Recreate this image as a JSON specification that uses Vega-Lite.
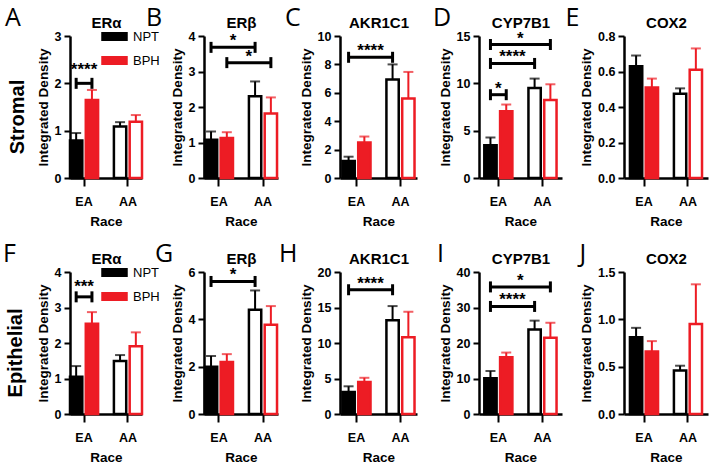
{
  "$schema": "https://vega.github.io/schema/vega-lite/v6.json",
  "padding": {"left": 3, "top": 6, "right": 3, "bottom": 2},
  "datasets": {
    "bars": [
      {"panel": "A", "race": "EA", "grp": "NPT", "mean": 0.79, "top": 0.95},
      {"panel": "A", "race": "EA", "grp": "BPH", "mean": 1.65, "top": 1.86},
      {"panel": "A", "race": "AA", "grp": "NPT", "mean": 1.09, "top": 1.18},
      {"panel": "A", "race": "AA", "grp": "BPH", "mean": 1.19, "top": 1.33},
      {"panel": "B", "race": "EA", "grp": "NPT", "mean": 1.08, "top": 1.31},
      {"panel": "B", "race": "EA", "grp": "BPH", "mean": 1.13, "top": 1.29},
      {"panel": "B", "race": "AA", "grp": "NPT", "mean": 2.3, "top": 2.72},
      {"panel": "B", "race": "AA", "grp": "BPH", "mean": 1.82, "top": 2.27},
      {"panel": "C", "race": "EA", "grp": "NPT", "mean": 1.2, "top": 1.5},
      {"panel": "C", "race": "EA", "grp": "BPH", "mean": 2.5, "top": 2.92},
      {"panel": "C", "race": "AA", "grp": "NPT", "mean": 6.93, "top": 8.0},
      {"panel": "C", "race": "AA", "grp": "BPH", "mean": 5.6, "top": 7.47},
      {"panel": "D", "race": "EA", "grp": "NPT", "mean": 3.45, "top": 4.27},
      {"panel": "D", "race": "EA", "grp": "BPH", "mean": 7.05, "top": 7.76},
      {"panel": "D", "race": "AA", "grp": "NPT", "mean": 9.5, "top": 10.5},
      {"panel": "D", "race": "AA", "grp": "BPH", "mean": 8.25, "top": 9.9},
      {"panel": "E", "race": "EA", "grp": "NPT", "mean": 0.63, "top": 0.69},
      {"panel": "E", "race": "EA", "grp": "BPH", "mean": 0.51, "top": 0.56},
      {"panel": "E", "race": "AA", "grp": "NPT", "mean": 0.474, "top": 0.505},
      {"panel": "E", "race": "AA", "grp": "BPH", "mean": 0.61, "top": 0.73},
      {"panel": "F", "race": "EA", "grp": "NPT", "mean": 1.05, "top": 1.35},
      {"panel": "F", "race": "EA", "grp": "BPH", "mean": 2.54, "top": 2.87},
      {"panel": "F", "race": "AA", "grp": "NPT", "mean": 1.49, "top": 1.66},
      {"panel": "F", "race": "AA", "grp": "BPH", "mean": 1.91, "top": 2.3},
      {"panel": "G", "race": "EA", "grp": "NPT", "mean": 2.0, "top": 2.45},
      {"panel": "G", "race": "EA", "grp": "BPH", "mean": 2.2, "top": 2.53},
      {"panel": "G", "race": "AA", "grp": "NPT", "mean": 4.4, "top": 5.22},
      {"panel": "G", "race": "AA", "grp": "BPH", "mean": 3.77, "top": 4.56},
      {"panel": "H", "race": "EA", "grp": "NPT", "mean": 3.1, "top": 3.9},
      {"panel": "H", "race": "EA", "grp": "BPH", "mean": 4.5, "top": 5.1},
      {"panel": "H", "race": "AA", "grp": "NPT", "mean": 13.2, "top": 15.2},
      {"panel": "H", "race": "AA", "grp": "BPH", "mean": 10.8, "top": 14.4},
      {"panel": "I", "race": "EA", "grp": "NPT", "mean": 10.1, "top": 12.1},
      {"panel": "I", "race": "EA", "grp": "BPH", "mean": 16.0, "top": 17.3},
      {"panel": "I", "race": "AA", "grp": "NPT", "mean": 23.8, "top": 26.3},
      {"panel": "I", "race": "AA", "grp": "BPH", "mean": 21.5, "top": 25.7},
      {"panel": "J", "race": "EA", "grp": "NPT", "mean": 0.81, "top": 0.91},
      {"panel": "J", "race": "EA", "grp": "BPH", "mean": 0.66, "top": 0.77},
      {"panel": "J", "race": "AA", "grp": "NPT", "mean": 0.46, "top": 0.51},
      {"panel": "J", "race": "AA", "grp": "BPH", "mean": 0.95, "top": 1.37}
    ],
    "brackets": [
      {"panel": "A", "id": "a1", "race": "EA", "grp": "NPT", "level": 2.0},
      {"panel": "A", "id": "a1", "race": "EA", "grp": "BPH", "level": 2.0},
      {"panel": "B", "id": "b1", "race": "EA", "grp": "NPT", "level": 3.68},
      {"panel": "B", "id": "b1", "race": "AA", "grp": "NPT", "level": 3.68},
      {"panel": "B", "id": "b2", "race": "EA", "grp": "BPH", "level": 3.25},
      {"panel": "B", "id": "b2", "race": "AA", "grp": "BPH", "level": 3.25},
      {"panel": "C", "id": "c1", "race": "EA", "grp": "NPT", "level": 8.5},
      {"panel": "C", "id": "c1", "race": "AA", "grp": "NPT", "level": 8.5},
      {"panel": "D", "id": "d1", "race": "EA", "grp": "NPT", "level": 8.8},
      {"panel": "D", "id": "d1", "race": "EA", "grp": "BPH", "level": 8.8},
      {"panel": "D", "id": "d2", "race": "EA", "grp": "NPT", "level": 12.1},
      {"panel": "D", "id": "d2", "race": "AA", "grp": "NPT", "level": 12.1},
      {"panel": "D", "id": "d3", "race": "EA", "grp": "NPT", "level": 14.1},
      {"panel": "D", "id": "d3", "race": "AA", "grp": "BPH", "level": 14.1},
      {"panel": "F", "id": "f1", "race": "EA", "grp": "NPT", "level": 3.3},
      {"panel": "F", "id": "f1", "race": "EA", "grp": "BPH", "level": 3.3},
      {"panel": "G", "id": "g1", "race": "EA", "grp": "NPT", "level": 5.6},
      {"panel": "G", "id": "g1", "race": "AA", "grp": "NPT", "level": 5.6},
      {"panel": "H", "id": "h1", "race": "EA", "grp": "NPT", "level": 17.5},
      {"panel": "H", "id": "h1", "race": "AA", "grp": "NPT", "level": 17.5},
      {"panel": "I", "id": "i1", "race": "EA", "grp": "NPT", "level": 30.3},
      {"panel": "I", "id": "i1", "race": "AA", "grp": "NPT", "level": 30.3},
      {"panel": "I", "id": "i2", "race": "EA", "grp": "NPT", "level": 35.8},
      {"panel": "I", "id": "i2", "race": "AA", "grp": "BPH", "level": 35.8}
    ],
    "stars": [
      {"panel": "A", "kind": "in", "race": "EA", "level": 2.15, "label": "****"},
      {"panel": "B", "kind": "side", "race": "EA", "grp": "NPT", "level": 3.68, "label": "*"},
      {"panel": "B", "kind": "side", "race": "EA", "grp": "BPH", "level": 3.25, "label": "*"},
      {"panel": "C", "kind": "side", "race": "EA", "grp": "NPT", "level": 8.5, "label": "****"},
      {"panel": "D", "kind": "in", "race": "EA", "level": 8.8, "label": "*"},
      {"panel": "D", "kind": "side", "race": "EA", "grp": "NPT", "level": 12.1, "label": "****"},
      {"panel": "D", "kind": "mid", "race": "EA", "level": 14.1, "label": "*"},
      {"panel": "F", "kind": "in", "race": "EA", "level": 3.41, "label": "***"},
      {"panel": "G", "kind": "side", "race": "EA", "grp": "NPT", "level": 5.6, "label": "*"},
      {"panel": "H", "kind": "side", "race": "EA", "grp": "NPT", "level": 17.5, "label": "****"},
      {"panel": "I", "kind": "side", "race": "EA", "grp": "NPT", "level": 30.3, "label": "****"},
      {"panel": "I", "kind": "mid", "race": "EA", "level": 35.8, "label": "*"}
    ]
  },
  "config": {
    "font": "Liberation Sans",
    "view": {"stroke": null},
    "title": {"anchor": "start", "frame": "bounds", "font": "Open Sans", "fontSize": 25, "fontWeight": "normal", "color": "black", "offset": -16},
    "axis": {"grid": false, "domainColor": "black", "domainWidth": 2.5, "tickColor": "black", "tickWidth": 2, "labelColor": "black", "labelFont": "Liberation Sans", "labelFontWeight": "bold", "labelFontSize": 12.5, "titleFont": "Liberation Sans", "titleFontWeight": "bold", "titleColor": "black"},
    "axisLeft": {"tickSize": 6, "labelPadding": 3, "titleFontSize": 13.5, "titlePadding": 4},
    "axisBottom": {"tickSize": 8, "labelPadding": 9, "labelAngle": 0, "titleFontSize": 13.5, "titlePadding": 7},
    "axisTop": {"labels": false, "ticks": false, "domain": false, "titleFontSize": 15, "titlePadding": 6},
    "legend": {"orient": "none", "legendX": 38, "legendY": -6, "title": null, "symbolType": "M-2.4,-0.65H2.4V0.65H-2.4Z", "symbolSize": 100, "symbolStrokeWidth": 0, "labelFont": "Liberation Sans", "labelFontSize": 13, "labelFontWeight": "normal", "labelColor": "black", "rowPadding": 7, "labelOffset": 12},
    "bar": {"strokeWidth": 2.5},
    "rule": {"strokeWidth": 2},
    "tick": {"thickness": 2, "size": 10},
    "line": {"color": "black", "strokeWidth": 3},
    "point": {"shape": "M0,-1V1", "size": 121, "filled": false, "color": "black", "strokeWidth": 3, "opacity": 1},
    "text": {"fontSize": 17, "fontWeight": "bold", "baseline": "alphabetic", "dy": -1, "color": "black"}
  },
  "spacing": 14,
  "resolve": {"scale": {"fill": "independent", "stroke": "independent", "color": "independent"}, "legend": {"fill": "independent", "stroke": "independent", "color": "independent"}},
  "vconcat": [
    {
      "title": {"text": "Stromal", "orient": "left", "anchor": "middle", "font": "Liberation Sans", "fontSize": 20, "fontWeight": "bold", "offset": -23},
      "bounds": "flush",
      "spacing": 62,
      "resolve": {"scale": {"fill": "independent", "stroke": "independent", "color": "independent"}, "legend": {"fill": "independent", "stroke": "independent", "color": "independent"}},
      "hconcat": [
        {
          "width": 72, "height": 142,
          "title": {"text": "A", "dx": -31},
          "resolve": {"axis": {"x": "independent", "y": "independent"}},
          "layer": [
            {"data": {"name": "bars"}, "transform": [{"filter": {"field": "panel", "equal": "A"}}], "mark": "bar",
             "encoding": {
               "x": {"field": "race", "type": "nominal", "scale": {"domain": ["EA", "AA"], "paddingInner": 0.36, "paddingOuter": 0}, "axis": {"title": "Race"}},
               "xOffset": {"field": "grp", "type": "nominal", "scale": {"domain": ["NPT", "BPH"], "paddingInner": 0.22}},
               "y": {"field": "mean", "type": "quantitative", "scale": {"domain": [0, 3], "nice": false}, "axis": {"title": "Integrated Density", "values": [0, 1, 2, 3]}},
               "fill": {"condition": {"test": "datum.race === 'AA'", "value": "white"}, "field": "grp", "type": "nominal", "scale": {"domain": ["NPT", "BPH"], "range": ["black", "#ed1c24"]}, "legend": {}},
               "stroke": {"field": "grp", "type": "nominal", "scale": {"domain": ["NPT", "BPH"], "range": ["black", "#ed1c24"]}, "legend": null}
             }},
            {"data": {"name": "bars"}, "transform": [{"filter": {"field": "panel", "equal": "A"}}], "mark": "rule",
             "encoding": {
               "x": {"field": "race", "type": "nominal", "scale": {"domain": ["EA", "AA"]}, "axis": {"orient": "top", "title": "ERα"}},
               "xOffset": {"field": "grp", "type": "nominal", "scale": {"domain": ["NPT", "BPH"]}},
               "y": {"field": "mean", "type": "quantitative", "axis": null}, "y2": {"field": "top"},
               "color": {"field": "grp", "type": "nominal", "scale": {"domain": ["NPT", "BPH"], "range": ["black", "#ed1c24"]}, "legend": null}
             }},
            {"data": {"name": "bars"}, "transform": [{"filter": {"field": "panel", "equal": "A"}}], "mark": "tick",
             "encoding": {
               "x": {"field": "race", "type": "nominal", "scale": {"domain": ["EA", "AA"]}, "axis": null},
               "xOffset": {"field": "grp", "type": "nominal", "scale": {"domain": ["NPT", "BPH"]}},
               "y": {"field": "top", "type": "quantitative", "axis": null},
               "color": {"field": "grp", "type": "nominal", "scale": {"domain": ["NPT", "BPH"], "range": ["black", "#ed1c24"]}, "legend": null}
             }},
            {"data": {"name": "brackets"}, "transform": [{"filter": {"field": "panel", "equal": "A"}}], "mark": "line",
             "encoding": {
               "x": {"field": "race", "type": "nominal", "scale": {"domain": ["EA", "AA"]}, "axis": null},
               "xOffset": {"field": "grp", "type": "nominal", "scale": {"domain": ["NPT", "BPH"]}},
               "y": {"field": "level", "type": "quantitative", "axis": null},
               "detail": {"field": "id"}
             }},
            {"data": {"name": "brackets"}, "transform": [{"filter": {"field": "panel", "equal": "A"}}], "mark": "point",
             "encoding": {
               "x": {"field": "race", "type": "nominal", "scale": {"domain": ["EA", "AA"]}, "axis": null},
               "xOffset": {"field": "grp", "type": "nominal", "scale": {"domain": ["NPT", "BPH"]}},
               "y": {"field": "level", "type": "quantitative", "axis": null}
             }},
            {"data": {"name": "stars"}, "transform": [{"filter": {"field": "panel", "equal": "A"}}, {"filter": {"field": "kind", "equal": "in"}}], "mark": "text",
             "encoding": {
               "x": {"field": "race", "type": "nominal", "scale": {"domain": ["EA", "AA"]}, "axis": null},
               "y": {"field": "level", "type": "quantitative", "axis": null},
               "text": {"field": "label"}
             }}
          ]
        },
        {
          "width": 74, "height": 142,
          "title": {"text": "B", "dx": -24},
          "resolve": {"axis": {"x": "independent", "y": "independent"}},
          "layer": [
            {"data": {"name": "bars"}, "transform": [{"filter": {"field": "panel", "equal": "B"}}], "mark": "bar",
             "encoding": {
               "x": {"field": "race", "type": "nominal", "scale": {"domain": ["EA", "AA"], "paddingInner": 0.36, "paddingOuter": 0.02}, "axis": {"title": "Race"}},
               "xOffset": {"field": "grp", "type": "nominal", "scale": {"domain": ["NPT", "BPH"], "paddingInner": 0.22}},
               "y": {"field": "mean", "type": "quantitative", "scale": {"domain": [0, 4], "nice": false}, "axis": {"title": "Integrated Density", "values": [0, 1, 2, 3, 4]}},
               "fill": {"condition": {"test": "datum.race === 'AA'", "value": "white"}, "field": "grp", "type": "nominal", "scale": {"domain": ["NPT", "BPH"], "range": ["black", "#ed1c24"]}, "legend": null},
               "stroke": {"field": "grp", "type": "nominal", "scale": {"domain": ["NPT", "BPH"], "range": ["black", "#ed1c24"]}, "legend": null}
             }},
            {"data": {"name": "bars"}, "transform": [{"filter": {"field": "panel", "equal": "B"}}], "mark": "rule",
             "encoding": {
               "x": {"field": "race", "type": "nominal", "scale": {"domain": ["EA", "AA"]}, "axis": {"orient": "top", "title": "ERβ"}},
               "xOffset": {"field": "grp", "type": "nominal", "scale": {"domain": ["NPT", "BPH"]}},
               "y": {"field": "mean", "type": "quantitative", "axis": null}, "y2": {"field": "top"},
               "color": {"field": "grp", "type": "nominal", "scale": {"domain": ["NPT", "BPH"], "range": ["black", "#ed1c24"]}, "legend": null}
             }},
            {"data": {"name": "bars"}, "transform": [{"filter": {"field": "panel", "equal": "B"}}], "mark": "tick",
             "encoding": {
               "x": {"field": "race", "type": "nominal", "scale": {"domain": ["EA", "AA"]}, "axis": null},
               "xOffset": {"field": "grp", "type": "nominal", "scale": {"domain": ["NPT", "BPH"]}},
               "y": {"field": "top", "type": "quantitative", "axis": null},
               "color": {"field": "grp", "type": "nominal", "scale": {"domain": ["NPT", "BPH"], "range": ["black", "#ed1c24"]}, "legend": null}
             }},
            {"data": {"name": "brackets"}, "transform": [{"filter": {"field": "panel", "equal": "B"}}], "mark": "line",
             "encoding": {
               "x": {"field": "race", "type": "nominal", "scale": {"domain": ["EA", "AA"]}, "axis": null},
               "xOffset": {"field": "grp", "type": "nominal", "scale": {"domain": ["NPT", "BPH"]}},
               "y": {"field": "level", "type": "quantitative", "axis": null},
               "detail": {"field": "id"}
             }},
            {"data": {"name": "brackets"}, "transform": [{"filter": {"field": "panel", "equal": "B"}}], "mark": "point",
             "encoding": {
               "x": {"field": "race", "type": "nominal", "scale": {"domain": ["EA", "AA"]}, "axis": null},
               "xOffset": {"field": "grp", "type": "nominal", "scale": {"domain": ["NPT", "BPH"]}},
               "y": {"field": "level", "type": "quantitative", "axis": null}
             }},
            {"data": {"name": "stars"}, "transform": [{"filter": {"field": "panel", "equal": "B"}}, {"filter": {"field": "kind", "equal": "side"}}], "mark": {"type": "text", "dx": 22},
             "encoding": {
               "x": {"field": "race", "type": "nominal", "scale": {"domain": ["EA", "AA"]}, "axis": null},
               "xOffset": {"field": "grp", "type": "nominal", "scale": {"domain": ["NPT", "BPH"]}},
               "y": {"field": "level", "type": "quantitative", "axis": null},
               "text": {"field": "label"}
             }}
          ]
        },
        {
          "width": 77, "height": 142,
          "title": {"text": "C", "dx": -14},
          "resolve": {"axis": {"x": "independent", "y": "independent"}},
          "layer": [
            {"data": {"name": "bars"}, "transform": [{"filter": {"field": "panel", "equal": "C"}}], "mark": "bar",
             "encoding": {
               "x": {"field": "race", "type": "nominal", "scale": {"domain": ["EA", "AA"], "paddingInner": 0.36, "paddingOuter": 0.055}, "axis": {"title": "Race"}},
               "xOffset": {"field": "grp", "type": "nominal", "scale": {"domain": ["NPT", "BPH"], "paddingInner": 0.22}},
               "y": {"field": "mean", "type": "quantitative", "scale": {"domain": [0, 10], "nice": false}, "axis": {"title": "Integrated Density", "values": [0, 2, 4, 6, 8, 10]}},
               "fill": {"condition": {"test": "datum.race === 'AA'", "value": "white"}, "field": "grp", "type": "nominal", "scale": {"domain": ["NPT", "BPH"], "range": ["black", "#ed1c24"]}, "legend": null},
               "stroke": {"field": "grp", "type": "nominal", "scale": {"domain": ["NPT", "BPH"], "range": ["black", "#ed1c24"]}, "legend": null}
             }},
            {"data": {"name": "bars"}, "transform": [{"filter": {"field": "panel", "equal": "C"}}], "mark": "rule",
             "encoding": {
               "x": {"field": "race", "type": "nominal", "scale": {"domain": ["EA", "AA"]}, "axis": {"orient": "top", "title": "AKR1C1"}},
               "xOffset": {"field": "grp", "type": "nominal", "scale": {"domain": ["NPT", "BPH"]}},
               "y": {"field": "mean", "type": "quantitative", "axis": null}, "y2": {"field": "top"},
               "color": {"field": "grp", "type": "nominal", "scale": {"domain": ["NPT", "BPH"], "range": ["black", "#ed1c24"]}, "legend": null}
             }},
            {"data": {"name": "bars"}, "transform": [{"filter": {"field": "panel", "equal": "C"}}], "mark": "tick",
             "encoding": {
               "x": {"field": "race", "type": "nominal", "scale": {"domain": ["EA", "AA"]}, "axis": null},
               "xOffset": {"field": "grp", "type": "nominal", "scale": {"domain": ["NPT", "BPH"]}},
               "y": {"field": "top", "type": "quantitative", "axis": null},
               "color": {"field": "grp", "type": "nominal", "scale": {"domain": ["NPT", "BPH"], "range": ["black", "#ed1c24"]}, "legend": null}
             }},
            {"data": {"name": "brackets"}, "transform": [{"filter": {"field": "panel", "equal": "C"}}], "mark": "line",
             "encoding": {
               "x": {"field": "race", "type": "nominal", "scale": {"domain": ["EA", "AA"]}, "axis": null},
               "xOffset": {"field": "grp", "type": "nominal", "scale": {"domain": ["NPT", "BPH"]}},
               "y": {"field": "level", "type": "quantitative", "axis": null},
               "detail": {"field": "id"}
             }},
            {"data": {"name": "brackets"}, "transform": [{"filter": {"field": "panel", "equal": "C"}}], "mark": "point",
             "encoding": {
               "x": {"field": "race", "type": "nominal", "scale": {"domain": ["EA", "AA"]}, "axis": null},
               "xOffset": {"field": "grp", "type": "nominal", "scale": {"domain": ["NPT", "BPH"]}},
               "y": {"field": "level", "type": "quantitative", "axis": null}
             }},
            {"data": {"name": "stars"}, "transform": [{"filter": {"field": "panel", "equal": "C"}}, {"filter": {"field": "kind", "equal": "side"}}], "mark": {"type": "text", "dx": 22},
             "encoding": {
               "x": {"field": "race", "type": "nominal", "scale": {"domain": ["EA", "AA"]}, "axis": null},
               "xOffset": {"field": "grp", "type": "nominal", "scale": {"domain": ["NPT", "BPH"]}},
               "y": {"field": "level", "type": "quantitative", "axis": null},
               "text": {"field": "label"}
             }}
          ]
        },
        {
          "width": 83, "height": 142,
          "title": {"text": "D", "dx": -5},
          "resolve": {"axis": {"x": "independent", "y": "independent"}},
          "layer": [
            {"data": {"name": "bars"}, "transform": [{"filter": {"field": "panel", "equal": "D"}}], "mark": "bar",
             "encoding": {
               "x": {"field": "race", "type": "nominal", "scale": {"domain": ["EA", "AA"], "paddingInner": 0.36, "paddingOuter": 0.12}, "axis": {"title": "Race"}},
               "xOffset": {"field": "grp", "type": "nominal", "scale": {"domain": ["NPT", "BPH"], "paddingInner": 0.22}},
               "y": {"field": "mean", "type": "quantitative", "scale": {"domain": [0, 15], "nice": false}, "axis": {"title": "Integrated Density", "values": [0, 5, 10, 15]}},
               "fill": {"condition": {"test": "datum.race === 'AA'", "value": "white"}, "field": "grp", "type": "nominal", "scale": {"domain": ["NPT", "BPH"], "range": ["black", "#ed1c24"]}, "legend": null},
               "stroke": {"field": "grp", "type": "nominal", "scale": {"domain": ["NPT", "BPH"], "range": ["black", "#ed1c24"]}, "legend": null}
             }},
            {"data": {"name": "bars"}, "transform": [{"filter": {"field": "panel", "equal": "D"}}], "mark": "rule",
             "encoding": {
               "x": {"field": "race", "type": "nominal", "scale": {"domain": ["EA", "AA"]}, "axis": {"orient": "top", "title": "CYP7B1"}},
               "xOffset": {"field": "grp", "type": "nominal", "scale": {"domain": ["NPT", "BPH"]}},
               "y": {"field": "mean", "type": "quantitative", "axis": null}, "y2": {"field": "top"},
               "color": {"field": "grp", "type": "nominal", "scale": {"domain": ["NPT", "BPH"], "range": ["black", "#ed1c24"]}, "legend": null}
             }},
            {"data": {"name": "bars"}, "transform": [{"filter": {"field": "panel", "equal": "D"}}], "mark": "tick",
             "encoding": {
               "x": {"field": "race", "type": "nominal", "scale": {"domain": ["EA", "AA"]}, "axis": null},
               "xOffset": {"field": "grp", "type": "nominal", "scale": {"domain": ["NPT", "BPH"]}},
               "y": {"field": "top", "type": "quantitative", "axis": null},
               "color": {"field": "grp", "type": "nominal", "scale": {"domain": ["NPT", "BPH"], "range": ["black", "#ed1c24"]}, "legend": null}
             }},
            {"data": {"name": "brackets"}, "transform": [{"filter": {"field": "panel", "equal": "D"}}], "mark": "line",
             "encoding": {
               "x": {"field": "race", "type": "nominal", "scale": {"domain": ["EA", "AA"]}, "axis": null},
               "xOffset": {"field": "grp", "type": "nominal", "scale": {"domain": ["NPT", "BPH"]}},
               "y": {"field": "level", "type": "quantitative", "axis": null},
               "detail": {"field": "id"}
             }},
            {"data": {"name": "brackets"}, "transform": [{"filter": {"field": "panel", "equal": "D"}}], "mark": "point",
             "encoding": {
               "x": {"field": "race", "type": "nominal", "scale": {"domain": ["EA", "AA"]}, "axis": null},
               "xOffset": {"field": "grp", "type": "nominal", "scale": {"domain": ["NPT", "BPH"]}},
               "y": {"field": "level", "type": "quantitative", "axis": null}
             }},
            {"data": {"name": "stars"}, "transform": [{"filter": {"field": "panel", "equal": "D"}}, {"filter": {"field": "kind", "equal": "in"}}], "mark": "text",
             "encoding": {
               "x": {"field": "race", "type": "nominal", "scale": {"domain": ["EA", "AA"]}, "axis": null},
               "y": {"field": "level", "type": "quantitative", "axis": null},
               "text": {"field": "label"}
             }},
            {"data": {"name": "stars"}, "transform": [{"filter": {"field": "panel", "equal": "D"}}, {"filter": {"field": "kind", "equal": "mid"}}], "mark": {"type": "text", "dx": 22},
             "encoding": {
               "x": {"field": "race", "type": "nominal", "scale": {"domain": ["EA", "AA"]}, "axis": null},
               "y": {"field": "level", "type": "quantitative", "axis": null},
               "text": {"field": "label"}
             }},
            {"data": {"name": "stars"}, "transform": [{"filter": {"field": "panel", "equal": "D"}}, {"filter": {"field": "kind", "equal": "side"}}], "mark": {"type": "text", "dx": 22},
             "encoding": {
               "x": {"field": "race", "type": "nominal", "scale": {"domain": ["EA", "AA"]}, "axis": null},
               "xOffset": {"field": "grp", "type": "nominal", "scale": {"domain": ["NPT", "BPH"]}},
               "y": {"field": "level", "type": "quantitative", "axis": null},
               "text": {"field": "label"}
             }}
          ]
        },
        {
          "width": 84, "height": 142,
          "title": {"text": "E", "dx": -14},
          "resolve": {"axis": {"x": "independent", "y": "independent"}},
          "layer": [
            {"data": {"name": "bars"}, "transform": [{"filter": {"field": "panel", "equal": "E"}}], "mark": "bar",
             "encoding": {
               "x": {"field": "race", "type": "nominal", "scale": {"domain": ["EA", "AA"], "paddingInner": 0.36, "paddingOuter": 0.135}, "axis": {"title": "Race"}},
               "xOffset": {"field": "grp", "type": "nominal", "scale": {"domain": ["NPT", "BPH"], "paddingInner": 0.22}},
               "y": {"field": "mean", "type": "quantitative", "scale": {"domain": [0, 0.8], "nice": false}, "axis": {"title": "Integrated Density", "values": [0, 0.2, 0.4, 0.6, 0.8], "format": ".1f"}},
               "fill": {"condition": {"test": "datum.race === 'AA'", "value": "white"}, "field": "grp", "type": "nominal", "scale": {"domain": ["NPT", "BPH"], "range": ["black", "#ed1c24"]}, "legend": null},
               "stroke": {"field": "grp", "type": "nominal", "scale": {"domain": ["NPT", "BPH"], "range": ["black", "#ed1c24"]}, "legend": null}
             }},
            {"data": {"name": "bars"}, "transform": [{"filter": {"field": "panel", "equal": "E"}}], "mark": "rule",
             "encoding": {
               "x": {"field": "race", "type": "nominal", "scale": {"domain": ["EA", "AA"]}, "axis": {"orient": "top", "title": "COX2"}},
               "xOffset": {"field": "grp", "type": "nominal", "scale": {"domain": ["NPT", "BPH"]}},
               "y": {"field": "mean", "type": "quantitative", "axis": null}, "y2": {"field": "top"},
               "color": {"field": "grp", "type": "nominal", "scale": {"domain": ["NPT", "BPH"], "range": ["black", "#ed1c24"]}, "legend": null}
             }},
            {"data": {"name": "bars"}, "transform": [{"filter": {"field": "panel", "equal": "E"}}], "mark": "tick",
             "encoding": {
               "x": {"field": "race", "type": "nominal", "scale": {"domain": ["EA", "AA"]}, "axis": null},
               "xOffset": {"field": "grp", "type": "nominal", "scale": {"domain": ["NPT", "BPH"]}},
               "y": {"field": "top", "type": "quantitative", "axis": null},
               "color": {"field": "grp", "type": "nominal", "scale": {"domain": ["NPT", "BPH"], "range": ["black", "#ed1c24"]}, "legend": null}
             }}
          ]
        }
      ]
    },
    {
      "title": {"text": "Epithelial", "orient": "left", "anchor": "middle", "font": "Liberation Sans", "fontSize": 20, "fontWeight": "bold", "offset": -23},
      "bounds": "flush",
      "spacing": 62,
      "resolve": {"scale": {"fill": "independent", "stroke": "independent", "color": "independent"}, "legend": {"fill": "independent", "stroke": "independent", "color": "independent"}},
      "hconcat": [
        {
          "width": 72, "height": 142,
          "title": {"text": "F", "dx": -33},
          "resolve": {"axis": {"x": "independent", "y": "independent"}},
          "layer": [
            {"data": {"name": "bars"}, "transform": [{"filter": {"field": "panel", "equal": "F"}}], "mark": "bar",
             "encoding": {
               "x": {"field": "race", "type": "nominal", "scale": {"domain": ["EA", "AA"], "paddingInner": 0.36, "paddingOuter": 0}, "axis": {"title": "Race"}},
               "xOffset": {"field": "grp", "type": "nominal", "scale": {"domain": ["NPT", "BPH"], "paddingInner": 0.22}},
               "y": {"field": "mean", "type": "quantitative", "scale": {"domain": [0, 4], "nice": false}, "axis": {"title": "Integrated Density", "values": [0, 1, 2, 3, 4]}},
               "fill": {"condition": {"test": "datum.race === 'AA'", "value": "white"}, "field": "grp", "type": "nominal", "scale": {"domain": ["NPT", "BPH"], "range": ["black", "#ed1c24"]}, "legend": {}},
               "stroke": {"field": "grp", "type": "nominal", "scale": {"domain": ["NPT", "BPH"], "range": ["black", "#ed1c24"]}, "legend": null}
             }},
            {"data": {"name": "bars"}, "transform": [{"filter": {"field": "panel", "equal": "F"}}], "mark": "rule",
             "encoding": {
               "x": {"field": "race", "type": "nominal", "scale": {"domain": ["EA", "AA"]}, "axis": {"orient": "top", "title": "ERα"}},
               "xOffset": {"field": "grp", "type": "nominal", "scale": {"domain": ["NPT", "BPH"]}},
               "y": {"field": "mean", "type": "quantitative", "axis": null}, "y2": {"field": "top"},
               "color": {"field": "grp", "type": "nominal", "scale": {"domain": ["NPT", "BPH"], "range": ["black", "#ed1c24"]}, "legend": null}
             }},
            {"data": {"name": "bars"}, "transform": [{"filter": {"field": "panel", "equal": "F"}}], "mark": "tick",
             "encoding": {
               "x": {"field": "race", "type": "nominal", "scale": {"domain": ["EA", "AA"]}, "axis": null},
               "xOffset": {"field": "grp", "type": "nominal", "scale": {"domain": ["NPT", "BPH"]}},
               "y": {"field": "top", "type": "quantitative", "axis": null},
               "color": {"field": "grp", "type": "nominal", "scale": {"domain": ["NPT", "BPH"], "range": ["black", "#ed1c24"]}, "legend": null}
             }},
            {"data": {"name": "brackets"}, "transform": [{"filter": {"field": "panel", "equal": "F"}}], "mark": "line",
             "encoding": {
               "x": {"field": "race", "type": "nominal", "scale": {"domain": ["EA", "AA"]}, "axis": null},
               "xOffset": {"field": "grp", "type": "nominal", "scale": {"domain": ["NPT", "BPH"]}},
               "y": {"field": "level", "type": "quantitative", "axis": null},
               "detail": {"field": "id"}
             }},
            {"data": {"name": "brackets"}, "transform": [{"filter": {"field": "panel", "equal": "F"}}], "mark": "point",
             "encoding": {
               "x": {"field": "race", "type": "nominal", "scale": {"domain": ["EA", "AA"]}, "axis": null},
               "xOffset": {"field": "grp", "type": "nominal", "scale": {"domain": ["NPT", "BPH"]}},
               "y": {"field": "level", "type": "quantitative", "axis": null}
             }},
            {"data": {"name": "stars"}, "transform": [{"filter": {"field": "panel", "equal": "F"}}, {"filter": {"field": "kind", "equal": "in"}}], "mark": "text",
             "encoding": {
               "x": {"field": "race", "type": "nominal", "scale": {"domain": ["EA", "AA"]}, "axis": null},
               "y": {"field": "level", "type": "quantitative", "axis": null},
               "text": {"field": "label"}
             }}
          ]
        },
        {
          "width": 74, "height": 142,
          "title": {"text": "G", "dx": -15},
          "resolve": {"axis": {"x": "independent", "y": "independent"}},
          "layer": [
            {"data": {"name": "bars"}, "transform": [{"filter": {"field": "panel", "equal": "G"}}], "mark": "bar",
             "encoding": {
               "x": {"field": "race", "type": "nominal", "scale": {"domain": ["EA", "AA"], "paddingInner": 0.36, "paddingOuter": 0.02}, "axis": {"title": "Race"}},
               "xOffset": {"field": "grp", "type": "nominal", "scale": {"domain": ["NPT", "BPH"], "paddingInner": 0.22}},
               "y": {"field": "mean", "type": "quantitative", "scale": {"domain": [0, 6], "nice": false}, "axis": {"title": "Integrated Density", "values": [0, 2, 4, 6]}},
               "fill": {"condition": {"test": "datum.race === 'AA'", "value": "white"}, "field": "grp", "type": "nominal", "scale": {"domain": ["NPT", "BPH"], "range": ["black", "#ed1c24"]}, "legend": null},
               "stroke": {"field": "grp", "type": "nominal", "scale": {"domain": ["NPT", "BPH"], "range": ["black", "#ed1c24"]}, "legend": null}
             }},
            {"data": {"name": "bars"}, "transform": [{"filter": {"field": "panel", "equal": "G"}}], "mark": "rule",
             "encoding": {
               "x": {"field": "race", "type": "nominal", "scale": {"domain": ["EA", "AA"]}, "axis": {"orient": "top", "title": "ERβ"}},
               "xOffset": {"field": "grp", "type": "nominal", "scale": {"domain": ["NPT", "BPH"]}},
               "y": {"field": "mean", "type": "quantitative", "axis": null}, "y2": {"field": "top"},
               "color": {"field": "grp", "type": "nominal", "scale": {"domain": ["NPT", "BPH"], "range": ["black", "#ed1c24"]}, "legend": null}
             }},
            {"data": {"name": "bars"}, "transform": [{"filter": {"field": "panel", "equal": "G"}}], "mark": "tick",
             "encoding": {
               "x": {"field": "race", "type": "nominal", "scale": {"domain": ["EA", "AA"]}, "axis": null},
               "xOffset": {"field": "grp", "type": "nominal", "scale": {"domain": ["NPT", "BPH"]}},
               "y": {"field": "top", "type": "quantitative", "axis": null},
               "color": {"field": "grp", "type": "nominal", "scale": {"domain": ["NPT", "BPH"], "range": ["black", "#ed1c24"]}, "legend": null}
             }},
            {"data": {"name": "brackets"}, "transform": [{"filter": {"field": "panel", "equal": "G"}}], "mark": "line",
             "encoding": {
               "x": {"field": "race", "type": "nominal", "scale": {"domain": ["EA", "AA"]}, "axis": null},
               "xOffset": {"field": "grp", "type": "nominal", "scale": {"domain": ["NPT", "BPH"]}},
               "y": {"field": "level", "type": "quantitative", "axis": null},
               "detail": {"field": "id"}
             }},
            {"data": {"name": "brackets"}, "transform": [{"filter": {"field": "panel", "equal": "G"}}], "mark": "point",
             "encoding": {
               "x": {"field": "race", "type": "nominal", "scale": {"domain": ["EA", "AA"]}, "axis": null},
               "xOffset": {"field": "grp", "type": "nominal", "scale": {"domain": ["NPT", "BPH"]}},
               "y": {"field": "level", "type": "quantitative", "axis": null}
             }},
            {"data": {"name": "stars"}, "transform": [{"filter": {"field": "panel", "equal": "G"}}, {"filter": {"field": "kind", "equal": "side"}}], "mark": {"type": "text", "dx": 22},
             "encoding": {
               "x": {"field": "race", "type": "nominal", "scale": {"domain": ["EA", "AA"]}, "axis": null},
               "xOffset": {"field": "grp", "type": "nominal", "scale": {"domain": ["NPT", "BPH"]}},
               "y": {"field": "level", "type": "quantitative", "axis": null},
               "text": {"field": "label"}
             }}
          ]
        },
        {
          "width": 77, "height": 142,
          "title": {"text": "H", "dx": -20},
          "resolve": {"axis": {"x": "independent", "y": "independent"}},
          "layer": [
            {"data": {"name": "bars"}, "transform": [{"filter": {"field": "panel", "equal": "H"}}], "mark": "bar",
             "encoding": {
               "x": {"field": "race", "type": "nominal", "scale": {"domain": ["EA", "AA"], "paddingInner": 0.36, "paddingOuter": 0.055}, "axis": {"title": "Race"}},
               "xOffset": {"field": "grp", "type": "nominal", "scale": {"domain": ["NPT", "BPH"], "paddingInner": 0.22}},
               "y": {"field": "mean", "type": "quantitative", "scale": {"domain": [0, 20], "nice": false}, "axis": {"title": "Integrated Density", "values": [0, 5, 10, 15, 20]}},
               "fill": {"condition": {"test": "datum.race === 'AA'", "value": "white"}, "field": "grp", "type": "nominal", "scale": {"domain": ["NPT", "BPH"], "range": ["black", "#ed1c24"]}, "legend": null},
               "stroke": {"field": "grp", "type": "nominal", "scale": {"domain": ["NPT", "BPH"], "range": ["black", "#ed1c24"]}, "legend": null}
             }},
            {"data": {"name": "bars"}, "transform": [{"filter": {"field": "panel", "equal": "H"}}], "mark": "rule",
             "encoding": {
               "x": {"field": "race", "type": "nominal", "scale": {"domain": ["EA", "AA"]}, "axis": {"orient": "top", "title": "AKR1C1"}},
               "xOffset": {"field": "grp", "type": "nominal", "scale": {"domain": ["NPT", "BPH"]}},
               "y": {"field": "mean", "type": "quantitative", "axis": null}, "y2": {"field": "top"},
               "color": {"field": "grp", "type": "nominal", "scale": {"domain": ["NPT", "BPH"], "range": ["black", "#ed1c24"]}, "legend": null}
             }},
            {"data": {"name": "bars"}, "transform": [{"filter": {"field": "panel", "equal": "H"}}], "mark": "tick",
             "encoding": {
               "x": {"field": "race", "type": "nominal", "scale": {"domain": ["EA", "AA"]}, "axis": null},
               "xOffset": {"field": "grp", "type": "nominal", "scale": {"domain": ["NPT", "BPH"]}},
               "y": {"field": "top", "type": "quantitative", "axis": null},
               "color": {"field": "grp", "type": "nominal", "scale": {"domain": ["NPT", "BPH"], "range": ["black", "#ed1c24"]}, "legend": null}
             }},
            {"data": {"name": "brackets"}, "transform": [{"filter": {"field": "panel", "equal": "H"}}], "mark": "line",
             "encoding": {
               "x": {"field": "race", "type": "nominal", "scale": {"domain": ["EA", "AA"]}, "axis": null},
               "xOffset": {"field": "grp", "type": "nominal", "scale": {"domain": ["NPT", "BPH"]}},
               "y": {"field": "level", "type": "quantitative", "axis": null},
               "detail": {"field": "id"}
             }},
            {"data": {"name": "brackets"}, "transform": [{"filter": {"field": "panel", "equal": "H"}}], "mark": "point",
             "encoding": {
               "x": {"field": "race", "type": "nominal", "scale": {"domain": ["EA", "AA"]}, "axis": null},
               "xOffset": {"field": "grp", "type": "nominal", "scale": {"domain": ["NPT", "BPH"]}},
               "y": {"field": "level", "type": "quantitative", "axis": null}
             }},
            {"data": {"name": "stars"}, "transform": [{"filter": {"field": "panel", "equal": "H"}}, {"filter": {"field": "kind", "equal": "side"}}], "mark": {"type": "text", "dx": 22},
             "encoding": {
               "x": {"field": "race", "type": "nominal", "scale": {"domain": ["EA", "AA"]}, "axis": null},
               "xOffset": {"field": "grp", "type": "nominal", "scale": {"domain": ["NPT", "BPH"]}},
               "y": {"field": "level", "type": "quantitative", "axis": null},
               "text": {"field": "label"}
             }}
          ]
        },
        {
          "width": 83, "height": 142,
          "title": {"text": "I", "dx": -1},
          "resolve": {"axis": {"x": "independent", "y": "independent"}},
          "layer": [
            {"data": {"name": "bars"}, "transform": [{"filter": {"field": "panel", "equal": "I"}}], "mark": "bar",
             "encoding": {
               "x": {"field": "race", "type": "nominal", "scale": {"domain": ["EA", "AA"], "paddingInner": 0.36, "paddingOuter": 0.12}, "axis": {"title": "Race"}},
               "xOffset": {"field": "grp", "type": "nominal", "scale": {"domain": ["NPT", "BPH"], "paddingInner": 0.22}},
               "y": {"field": "mean", "type": "quantitative", "scale": {"domain": [0, 40], "nice": false}, "axis": {"title": "Integrated Density", "values": [0, 10, 20, 30, 40]}},
               "fill": {"condition": {"test": "datum.race === 'AA'", "value": "white"}, "field": "grp", "type": "nominal", "scale": {"domain": ["NPT", "BPH"], "range": ["black", "#ed1c24"]}, "legend": null},
               "stroke": {"field": "grp", "type": "nominal", "scale": {"domain": ["NPT", "BPH"], "range": ["black", "#ed1c24"]}, "legend": null}
             }},
            {"data": {"name": "bars"}, "transform": [{"filter": {"field": "panel", "equal": "I"}}], "mark": "rule",
             "encoding": {
               "x": {"field": "race", "type": "nominal", "scale": {"domain": ["EA", "AA"]}, "axis": {"orient": "top", "title": "CYP7B1"}},
               "xOffset": {"field": "grp", "type": "nominal", "scale": {"domain": ["NPT", "BPH"]}},
               "y": {"field": "mean", "type": "quantitative", "axis": null}, "y2": {"field": "top"},
               "color": {"field": "grp", "type": "nominal", "scale": {"domain": ["NPT", "BPH"], "range": ["black", "#ed1c24"]}, "legend": null}
             }},
            {"data": {"name": "bars"}, "transform": [{"filter": {"field": "panel", "equal": "I"}}], "mark": "tick",
             "encoding": {
               "x": {"field": "race", "type": "nominal", "scale": {"domain": ["EA", "AA"]}, "axis": null},
               "xOffset": {"field": "grp", "type": "nominal", "scale": {"domain": ["NPT", "BPH"]}},
               "y": {"field": "top", "type": "quantitative", "axis": null},
               "color": {"field": "grp", "type": "nominal", "scale": {"domain": ["NPT", "BPH"], "range": ["black", "#ed1c24"]}, "legend": null}
             }},
            {"data": {"name": "brackets"}, "transform": [{"filter": {"field": "panel", "equal": "I"}}], "mark": "line",
             "encoding": {
               "x": {"field": "race", "type": "nominal", "scale": {"domain": ["EA", "AA"]}, "axis": null},
               "xOffset": {"field": "grp", "type": "nominal", "scale": {"domain": ["NPT", "BPH"]}},
               "y": {"field": "level", "type": "quantitative", "axis": null},
               "detail": {"field": "id"}
             }},
            {"data": {"name": "brackets"}, "transform": [{"filter": {"field": "panel", "equal": "I"}}], "mark": "point",
             "encoding": {
               "x": {"field": "race", "type": "nominal", "scale": {"domain": ["EA", "AA"]}, "axis": null},
               "xOffset": {"field": "grp", "type": "nominal", "scale": {"domain": ["NPT", "BPH"]}},
               "y": {"field": "level", "type": "quantitative", "axis": null}
             }},
            {"data": {"name": "stars"}, "transform": [{"filter": {"field": "panel", "equal": "I"}}, {"filter": {"field": "kind", "equal": "mid"}}], "mark": {"type": "text", "dx": 22},
             "encoding": {
               "x": {"field": "race", "type": "nominal", "scale": {"domain": ["EA", "AA"]}, "axis": null},
               "y": {"field": "level", "type": "quantitative", "axis": null},
               "text": {"field": "label"}
             }},
            {"data": {"name": "stars"}, "transform": [{"filter": {"field": "panel", "equal": "I"}}, {"filter": {"field": "kind", "equal": "side"}}], "mark": {"type": "text", "dx": 22},
             "encoding": {
               "x": {"field": "race", "type": "nominal", "scale": {"domain": ["EA", "AA"]}, "axis": null},
               "xOffset": {"field": "grp", "type": "nominal", "scale": {"domain": ["NPT", "BPH"]}},
               "y": {"field": "level", "type": "quantitative", "axis": null},
               "text": {"field": "label"}
             }}
          ]
        },
        {
          "width": 84, "height": 142,
          "title": {"text": "J", "dx": 0},
          "resolve": {"axis": {"x": "independent", "y": "independent"}},
          "layer": [
            {"data": {"name": "bars"}, "transform": [{"filter": {"field": "panel", "equal": "J"}}], "mark": "bar",
             "encoding": {
               "x": {"field": "race", "type": "nominal", "scale": {"domain": ["EA", "AA"], "paddingInner": 0.36, "paddingOuter": 0.135}, "axis": {"title": "Race"}},
               "xOffset": {"field": "grp", "type": "nominal", "scale": {"domain": ["NPT", "BPH"], "paddingInner": 0.22}},
               "y": {"field": "mean", "type": "quantitative", "scale": {"domain": [0, 1.5], "nice": false}, "axis": {"title": "Integrated Density", "values": [0, 0.5, 1, 1.5], "format": ".1f"}},
               "fill": {"condition": {"test": "datum.race === 'AA'", "value": "white"}, "field": "grp", "type": "nominal", "scale": {"domain": ["NPT", "BPH"], "range": ["black", "#ed1c24"]}, "legend": null},
               "stroke": {"field": "grp", "type": "nominal", "scale": {"domain": ["NPT", "BPH"], "range": ["black", "#ed1c24"]}, "legend": null}
             }},
            {"data": {"name": "bars"}, "transform": [{"filter": {"field": "panel", "equal": "J"}}], "mark": "rule",
             "encoding": {
               "x": {"field": "race", "type": "nominal", "scale": {"domain": ["EA", "AA"]}, "axis": {"orient": "top", "title": "COX2"}},
               "xOffset": {"field": "grp", "type": "nominal", "scale": {"domain": ["NPT", "BPH"]}},
               "y": {"field": "mean", "type": "quantitative", "axis": null}, "y2": {"field": "top"},
               "color": {"field": "grp", "type": "nominal", "scale": {"domain": ["NPT", "BPH"], "range": ["black", "#ed1c24"]}, "legend": null}
             }},
            {"data": {"name": "bars"}, "transform": [{"filter": {"field": "panel", "equal": "J"}}], "mark": "tick",
             "encoding": {
               "x": {"field": "race", "type": "nominal", "scale": {"domain": ["EA", "AA"]}, "axis": null},
               "xOffset": {"field": "grp", "type": "nominal", "scale": {"domain": ["NPT", "BPH"]}},
               "y": {"field": "top", "type": "quantitative", "axis": null},
               "color": {"field": "grp", "type": "nominal", "scale": {"domain": ["NPT", "BPH"], "range": ["black", "#ed1c24"]}, "legend": null}
             }}
          ]
        }
      ]
    }
  ]
}
